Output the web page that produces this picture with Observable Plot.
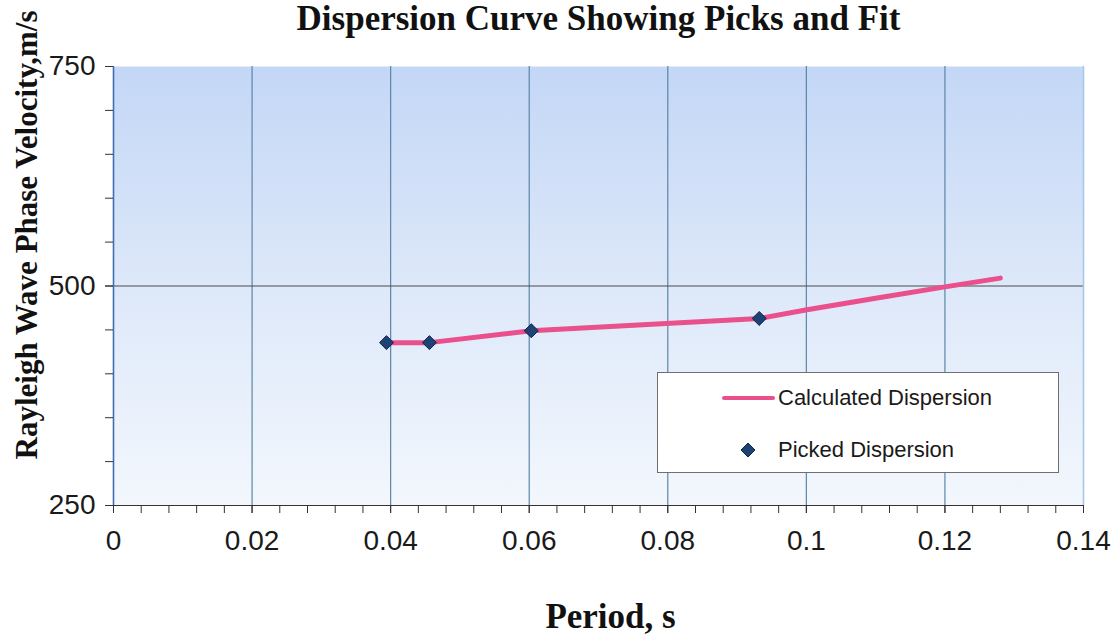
<!DOCTYPE html>
<html>
<head>
<meta charset="utf-8">
<script src="https://cdn.jsdelivr.net/npm/d3@7"></script>
<script src="https://cdn.jsdelivr.net/npm/@observablehq/plot@0.6"></script>
<style>
  html, body { margin: 0; padding: 0; background: #ffffff; }
  #wrap { position: relative; width: 1118px; height: 638px; overflow: hidden; }
  #legend {
    position: absolute; left: 657px; top: 372px; width: 402px; height: 101px;
    background: #ffffff; border: 1px solid #6f6f6f; box-sizing: border-box;
    font-family: "Liberation Sans", Arial, sans-serif; font-size: 22px; color: #1a1a1a;
  }
  .item { position: absolute; left: 0; height: 30px; line-height: 30px; white-space: nowrap; }
  .item svg { position: absolute; top: 0; }
  .item span { position: absolute; left: 120px; }
</style>
</head>
<body>
<div id="wrap"></div>
<script>
// ---- data ----
const title = "Dispersion Curve Showing Picks and Fit";
const xLabel = "Period, s";
const yLabel = "Rayleigh Wave Phase Velocity,m/s";
const seriesNames = ["Calculated Dispersion", "Picked Dispersion"];

const xTicks = [0, 0.02, 0.04, 0.06, 0.08, 0.1, 0.12, 0.14];
const xTickLabels = ["0", "0.02", "0.04", "0.06", "0.08", "0.1", "0.12", "0.14"];
const yTicks = [250, 500, 750];
const yTickLabels = ["250", "500", "750"];

// calculated dispersion (fit)
const calcPeriod = [0.0394, 0.0456, 0.0603, 0.0932, 0.1001, 0.1100, 0.1200, 0.1280];
const calcVelocity = [435.5, 435.5, 449, 463, 473, 486, 499, 509];

// picked dispersion
const pickPeriod = [0.0394, 0.0456, 0.0603, 0.0932];
const pickVelocity = [435.5, 435.5, 449, 463];

const calc = calcPeriod.map((p, i) => ({period: p, velocity: calcVelocity[i]}));
const picks = pickPeriod.map((p, i) => ({period: p, velocity: pickVelocity[i]}));

const xMinor = d3.range(0, 0.14 + 1e-9, 0.004);
const yMinor = d3.range(250, 750 + 1e-9, 50);

const lineColor = "#e9508c";
const dotColor = "#1f4276";
const serif = "'Liberation Serif', 'Times New Roman', serif";

const chart = Plot.plot({
  width: 1118,
  height: 638,
  marginLeft: 113,
  marginRight: 35,
  marginTop: 66,
  marginBottom: 133,
  x: {domain: [0, 0.14]},
  y: {domain: [250, 750]},
  style: {background: "transparent", fontFamily: "'Liberation Sans', Arial, sans-serif", color: "#222"},
  marks: [
    Plot.frame({fill: "url(#bgGrad)", stroke: null}),
    Plot.gridX(xTicks.filter(d => d > 0 && d < 0.14), {stroke: "#5b86a8", strokeOpacity: 1, strokeWidth: 1.2}),
    Plot.ruleY([500], {stroke: "#4a4a4a", strokeWidth: 1}),
    Plot.ruleX([0], {stroke: "#3f6fb2", strokeWidth: 1.6}),
    Plot.ruleX([0.14], {stroke: "#a9c7ec", strokeWidth: 1.6}),
    Plot.ruleY([250], {stroke: "#333333", strokeWidth: 1.2}),
    Plot.axisX(xMinor, {tickSize: 8, tickFormat: () => "", label: null, stroke: "#333"}),
    Plot.axisX(xTicks, {tickSize: 8, tickPadding: 17, fontSize: 28, label: null, stroke: "#333", fill: "#1a1a1a",
      tickFormat: d => xTickLabels[xTicks.findIndex(t => Math.abs(t - d) < 1e-9)]}),
    Plot.axisY(yMinor, {tickSize: 8, tickFormat: () => "", label: null, stroke: "#333"}),
    Plot.axisY(yTicks, {tickSize: 8, tickPadding: 10, fontSize: 28, label: null, stroke: "#333", fill: "#1a1a1a",
      tickFormat: d => yTickLabels[yTicks.indexOf(d)]}),
    Plot.line(calc, {x: "period", y: "velocity", stroke: lineColor, strokeWidth: 5, strokeLinecap: "round", strokeLinejoin: "round"}),
    Plot.dot(picks, {x: "period", y: "velocity", symbol: "diamond2", r: 6.3, fill: dotColor, stroke: "#0f2344", strokeWidth: 1}),
    Plot.text([title], {frameAnchor: "top", lineAnchor: "top", dy: -61, fontSize: 35, fontWeight: "bold", fontFamily: serif, fill: "#111"}),
    Plot.text([xLabel], {frameAnchor: "bottom", lineAnchor: "middle", dx: 12, dy: 111, fontSize: 35, fontWeight: "bold", fontFamily: serif, fill: "#111"}),
    Plot.text([yLabel], {frameAnchor: "left", textAnchor: "middle", lineAnchor: "middle", rotate: -90, dx: -86, dy: -51, fontSize: 31, fontWeight: "bold", fontFamily: serif, fill: "#111"})
  ]
});

// gradient definition for plot background
const ns = "http://www.w3.org/2000/svg";
const defs = document.createElementNS(ns, "defs");
const grad = document.createElementNS(ns, "linearGradient");
grad.setAttribute("id", "bgGrad");
grad.setAttribute("x1", "0"); grad.setAttribute("y1", "0");
grad.setAttribute("x2", "0"); grad.setAttribute("y2", "1");
[["0%", "#c3d7f6"], ["50%", "#dde8f9"], ["100%", "#f3f7fd"]].forEach(([o, c]) => {
  const s = document.createElementNS(ns, "stop");
  s.setAttribute("offset", o); s.setAttribute("stop-color", c);
  grad.appendChild(s);
});
defs.appendChild(grad);
chart.insertBefore(defs, chart.firstChild);

const wrap = document.getElementById("wrap");
wrap.appendChild(chart);

// legend
const legend = document.createElement("div");
legend.id = "legend";
legend.innerHTML = `
  <div class="item" style="top:10px;width:100%">
    <svg width="120" height="30"><line x1="66" x2="115" y1="15" y2="15" stroke="${lineColor}" stroke-width="4" stroke-linecap="round"/></svg>
    <span>${seriesNames[0]}</span>
  </div>
  <div class="item" style="top:62px;width:100%">
    <svg width="120" height="30"><path d="M90,8 L97,15 L90,22 L83,15 Z" fill="${dotColor}" stroke="#0f2344" stroke-width="1"/></svg>
    <span>${seriesNames[1]}</span>
  </div>`;
wrap.appendChild(legend);
</script>
</body>
</html>
